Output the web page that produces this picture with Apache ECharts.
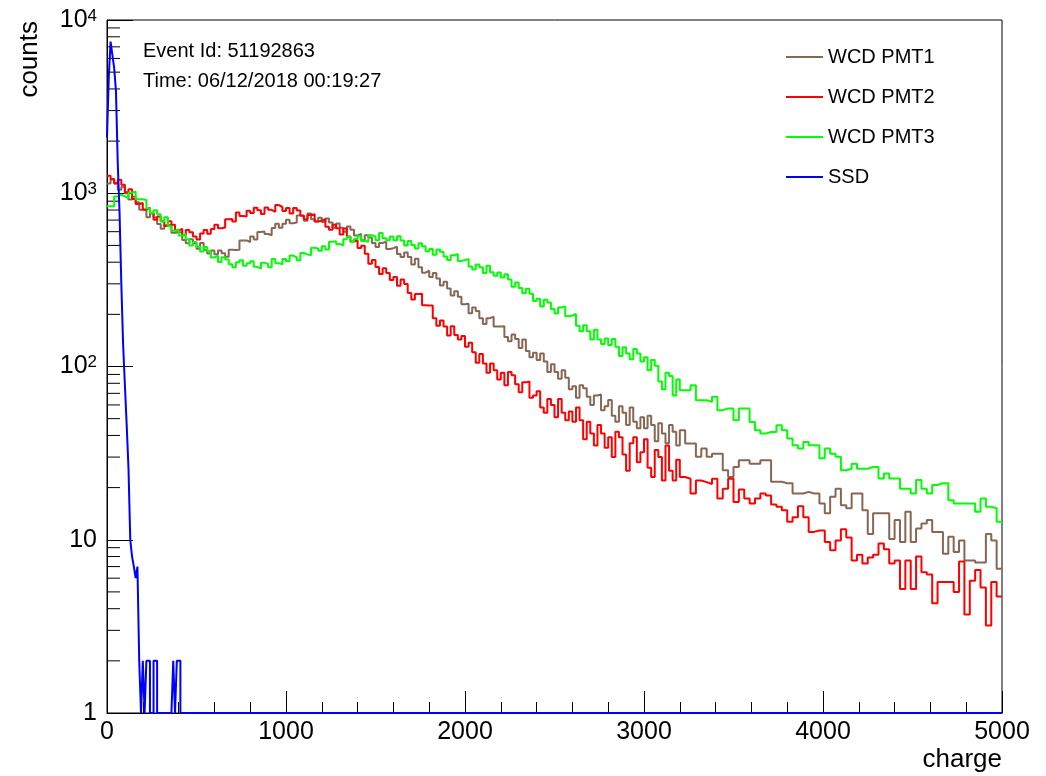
<!DOCTYPE html>
<html>
<head>
<meta charset="utf-8">
<title>charge</title>
<script src="https://cdn.jsdelivr.net/npm/echarts@6.0.0/dist/echarts.min.js"></script>
<style>
  html, body { margin: 0; padding: 0; background: #fff; }
  #chart { width: 1046px; height: 776px; }
</style>
</head>
<body>
<div id="chart"></div>
<script>
const seriesNames = ['WCD PMT1', 'WCD PMT2', 'WCD PMT3', 'SSD']
const seriesColors = ['#876656', '#ff0000', '#00ff00', '#0000ff']

const xMin = 0
const xMax = 5000
const xStep = 1000
const yMin = 1
const yMax = 10000

// WCD histograms: 20 wide bins up to 3200, then 30 wide bins up to 5000
const fineStart = 0
const fineWidth = 20
const coarseStart = 3200
const coarseWidth = 30

const pmt1Fine = [
  1139, 1202, 1135, 1046, 1089, 1001, 921, 956, 886, 804,
  801, 726, 765, 724, 665, 624, 654, 656, 592, 595,
  596, 537, 514, 542, 517, 478, 516, 472, 449, 468,
  444, 468, 450, 430, 472, 471, 472, 533, 534, 523,
  562, 540, 598, 601, 582, 572, 631, 666, 632, 666,
  702, 671, 678, 745, 735, 695, 763, 708, 686, 721,
  682, 716, 678, 632, 668, 632, 600, 643, 616, 571,
  583, 535, 572, 555, 516, 490, 517, 525, 477, 482,
  491, 446, 429, 455, 429, 388, 419, 374, 348, 357,
  328, 346, 322, 293, 308, 282, 257, 272, 253, 229,
  230, 203, 219, 209, 190, 176, 190, 194, 170, 170,
  171, 148, 140, 153, 144, 128, 143, 123, 113, 120,
  109, 119, 107, 93, 103, 93, 85, 95, 86, 74,
  77, 66, 78, 75, 67, 60, 68, 69, 56, 59,
  64, 52, 48, 59, 54, 46, 58, 48, 44, 51,
  44, 52, 46, 37, 47, 41, 36, 46, 42, 35
]
const pmt1Coarse = [
  42.9, 35.9, 35.9, 30.1, 33.6, 30.1, 31.4, 31.4, 25.2, 23,
  26.3, 28.8, 28.8, 27.5, 27.5, 28.8, 28.8, 21.6, 21.6, 21.2,
  21.2, 18.5, 18.5, 18.9, 18.5, 18.5, 16.2, 14.2, 17.7, 19.7,
  15.8, 15.2, 18.5, 18.5, 14.8, 10.8, 14.2, 14.2, 14.2, 10.1,
  13, 9.7, 14.5, 9.7, 11.6, 12.4, 13, 11.1, 11.1, 8.3,
  10.4, 8.5, 9.9, 7.6, 7.6, 7.4, 7.4, 10.8, 9.9, 6.8
]

const pmt2Fine = [
  1262, 1207, 1146, 1197, 1120, 1012, 1054, 927, 868, 879,
  805, 826, 768, 703, 734, 689, 648, 690, 657, 610,
  623, 573, 614, 596, 562, 541, 585, 614, 584, 621,
  658, 628, 635, 707, 711, 688, 775, 740, 735, 792,
  768, 826, 799, 760, 827, 803, 782, 855, 833, 789,
  821, 764, 822, 796, 745, 708, 748, 756, 686, 696,
  709, 640, 616, 658, 628, 578, 625, 563, 526, 535,
  483, 498, 448, 392, 412, 375, 342, 369, 346, 316,
  328, 292, 318, 299, 266, 244, 262, 263, 226, 225,
  225, 190, 172, 184, 170, 151, 171, 152, 143, 150,
  130, 137, 121, 105, 118, 104, 92, 104, 95, 84,
  92, 78, 93, 89, 79, 71, 81, 82, 66, 68,
  72, 58, 54, 65, 60, 51, 65, 54, 49, 55,
  48, 58, 49, 38, 48, 41, 35, 46, 41, 34,
  39, 30, 42, 39, 31, 25, 36, 39, 28, 32,
  38, 26, 23, 33, 30, 22, 35, 25, 22, 29
]
const pmt2Coarse = [
  23, 22.5, 18.5, 22, 21.5, 21, 22.5, 17.3, 19.7, 22.5,
  16.5, 19.5, 17.3, 16.2, 17.3, 18.5, 18, 16, 15.5, 14.8,
  12.7, 13.5, 15.6, 13.5, 11.1, 11.3, 11.3, 9.7, 8.7, 9.9,
  11.5, 10.3, 7.6, 8.2, 7.3, 7.9, 8.2, 9.5, 8.8, 7.3,
  7.6, 5.2, 7.6, 5.2, 8, 6.5, 6.3, 4.3, 5.7, 5.7,
  5.7, 5.0, 7.5, 3.7, 5.8, 6.7, 5.3, 3.2, 5.7, 4.7
]

const pmt3Fine = [
  841, 840, 957, 981, 958, 941, 1008, 1023, 924, 923,
  914, 817, 769, 799, 757, 688, 727, 646, 607, 619,
  570, 580, 542, 499, 524, 491, 461, 489, 463, 426,
  436, 401, 427, 414, 389, 374, 400, 411, 381, 394,
  405, 376, 367, 397, 391, 374, 417, 395, 389, 417,
  405, 437, 426, 411, 452, 444, 438, 485, 480, 465,
  495, 474, 525, 528, 510, 499, 542, 561, 523, 545,
  566, 530, 525, 572, 563, 535, 590, 550, 535, 562,
  536, 564, 534, 499, 530, 503, 480, 514, 494, 463,
  476, 441, 473, 460, 432, 412, 438, 446, 407, 412,
  418, 378, 363, 388, 374, 347, 382, 350, 334, 349,
  326, 341, 318, 289, 305, 284, 265, 281, 263, 239,
  246, 222, 243, 234, 215, 202, 219, 222, 195, 197,
  201, 172, 160, 173, 160, 143, 163, 143, 135, 145,
  133, 144, 130, 115, 129, 119, 110, 126, 119, 107,
  113, 95, 109, 101, 82, 74, 92, 88, 68, 84
]
const pmt3Coarse = [
  73, 73, 78, 63.9, 63.9, 62.5, 66.8, 56, 57.2, 57.2,
  49, 57.2, 57.2, 47.9, 42.9, 41, 41.9, 41.9, 45.8, 42.9,
  38.4, 35.1, 33.6, 36.7, 35.1, 35.1, 29.5, 33.6, 31.4, 30.1,
  25.2, 25.7, 27.5, 25.7, 25.7, 26.3, 26.3, 22.6, 24.1, 22.6,
  22.6, 19.7, 19.7, 18.5, 22.1, 19.7, 18.5, 20.7, 21.2, 21.2,
  16.9, 16.2, 16.2, 16.2, 16.2, 14.5, 17.3, 15.5, 15.2, 12.7
]

// SSD: 10 wide bins, every bin after the list is empty up to xMax
const ssdStart = 0
const ssdWidth = 10
const ssdCounts = [
  2100, 4700, 7500, 6300, 5300, 3900, 1500, 780, 300, 135,
  78, 46, 26, 10, 8, 7, 6, 7, 2, 0,
  2, 0, 2, 2, 0, 0, 2, 2, 0, 0,
  0, 0, 0, 0, 0, 0, 0, 2, 0, 2,
  2, 0
]

const eventText = 'Event Id: 51192863'
const timeText = 'Time: 06/12/2018 00:19:27'

// log axis cannot show 0, empty bins sit on the axis floor like in ROOT
const floor = v => Math.max(v, yMin)

function histPoints (blocks, emptyTo) {
  const pts = []
  let end = 0
  let lastVal = yMin
  blocks.forEach(b => {
    b.counts.forEach((c, i) => pts.push([b.start + i * b.width, floor(c)]))
    end = b.start + b.counts.length * b.width
    lastVal = floor(b.counts[b.counts.length - 1])
  })
  pts.push([end, lastVal])
  if (emptyTo && emptyTo > end) {
    pts.push([end, yMin])
    pts.push([emptyTo, yMin])
  }
  return pts
}

const seriesData = [
  histPoints([
    { start: fineStart, width: fineWidth, counts: pmt1Fine },
    { start: coarseStart, width: coarseWidth, counts: pmt1Coarse }
  ]),
  histPoints([
    { start: fineStart, width: fineWidth, counts: pmt2Fine },
    { start: coarseStart, width: coarseWidth, counts: pmt2Coarse }
  ]),
  histPoints([
    { start: fineStart, width: fineWidth, counts: pmt3Fine },
    { start: coarseStart, width: coarseWidth, counts: pmt3Coarse }
  ]),
  histPoints([{ start: ssdStart, width: ssdWidth, counts: ssdCounts }], xMax)
]

// log minor ticks at 2..9 of every decade
const yMinorTicks = []
for (let d = yMin; d < yMax; d *= 10) {
  for (let m = 2; m <= 9; m++) yMinorTicks.push([xMin, m * d])
}

const font = 'Liberation Sans'
const chart = echarts.init(document.getElementById('chart'), null, { renderer: 'canvas' })

const option = {
  animation: false,
  backgroundColor: '#fff',
  textStyle: { fontFamily: font, color: '#000' },
  grid: {
    left: 107,
    right: 44,
    top: 20,
    bottom: 63,
    show: true,
    borderColor: '#000',
    borderWidth: 1,
    outerBoundsMode: 'none'
  },
  legend: {
    data: seriesNames,
    orient: 'vertical',
    left: 786,
    top: 47,
    padding: 0,
    icon: 'rect',
    itemWidth: 37,
    itemHeight: 2,
    itemGap: 20,
    selectedMode: false,
    textStyle: { fontFamily: font, fontSize: 20, lineHeight: 20, color: '#000' }
  },
  graphic: [
    { type: 'text', left: 143, top: 41, style: { text: eventText, font: '20px "Liberation Sans"', fill: '#000' } },
    { type: 'text', left: 143, top: 71, style: { text: timeText, font: '20px "Liberation Sans"', fill: '#000' } }
  ],
  xAxis: {
    type: 'value',
    min: xMin,
    max: xMax,
    interval: xStep,
    name: 'charge',
    nameLocation: 'end',
    nameGap: 0,
    nameMoveOverlap: false,
    nameTextStyle: { fontFamily: font, fontSize: 26, color: '#000', align: 'right', verticalAlign: 'top', padding: [34, 0, 0, 0] },
    axisLine: { show: true, lineStyle: { color: '#000', width: 1 } },
    axisTick: { show: true, inside: true, length: 22, lineStyle: { color: '#000' } },
    minorTick: { show: true, splitNumber: 5, length: 11, lineStyle: { color: '#000' } },
    axisLabel: {
      fontFamily: font,
      fontSize: 25,
      color: '#000',
      margin: 7,
      showMinLabel: true,
      showMaxLabel: true,
      formatter: v => String(v)
    },
    splitLine: { show: false }
  },
  yAxis: {
    type: 'log',
    logBase: 10,
    min: yMin,
    max: yMax,
    name: 'counts',
    nameLocation: 'end',
    nameRotate: 90,
    nameGap: -1,
    nameMoveOverlap: false,
    nameTextStyle: { fontFamily: font, fontSize: 26, color: '#000', align: 'right', verticalAlign: 'bottom', padding: [0, 0, 64, 0] },
    axisLine: { show: true, lineStyle: { color: '#000', width: 1 } },
    axisTick: { show: true, inside: true, length: 26, lineStyle: { color: '#000' } },
    axisLabel: {
      fontFamily: font,
      fontSize: 25,
      color: '#000',
      margin: 10,
      showMinLabel: true,
      showMaxLabel: true,
      formatter: v => {
        const p = Math.round(Math.log10(v))
        if (p === 0) return '1'
        if (p === 1) return '10'
        return '10{sup|' + p + '}'
      },
      rich: {
        sup: { fontFamily: font, fontSize: 17, color: '#000', verticalAlign: 'top', padding: [0, 0, 8, 0] }
      }
    },
    splitLine: { show: false }
  },
  series: seriesNames.map((name, i) => ({
    name,
    type: 'line',
    step: 'end',
    data: seriesData[i],
    color: seriesColors[i],
    showSymbol: false,
    symbol: 'none',
    lineStyle: { color: seriesColors[i], width: 2 },
    z: 3 + i
  })).concat([{
    type: 'custom',
    name: 'yMinor',
    silent: true,
    clip: false,
    data: yMinorTicks,
    encode: { x: 0, y: 1 },
    z: 1,
    renderItem: (params, api) => {
      const p = api.coord([api.value(0), api.value(1)])
      return {
        type: 'line',
        shape: { x1: p[0], y1: p[1], x2: p[0] + 13, y2: p[1] },
        style: { stroke: '#000', lineWidth: 1 }
      }
    }
  }])
}

chart.setOption(option)
</script>
</body>
</html>
